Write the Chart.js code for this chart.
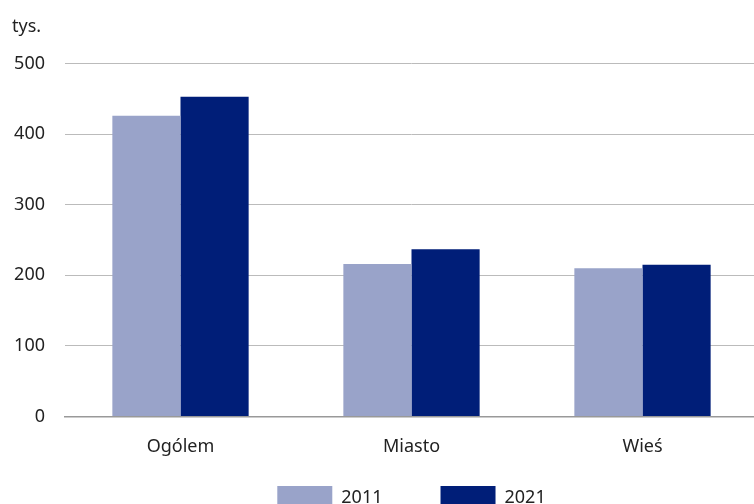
<!DOCTYPE html>
<html>
<head>
<meta charset="utf-8">
<script src="https://cdn.jsdelivr.net/npm/chart.js@4"></script>
<style>
  html, body { margin: 0; padding: 0; background: #fff; overflow: hidden; }
  #wrap { width: 758px; height: 504px; }
</style>
</head>
<body>
<div id="wrap"><canvas id="chart"></canvas></div>
<script>
// categories and values (thousands)
const categories = ['Ogólem', 'Miasto', 'Wieś'];
const years = ['2011', '2021'];
const values2011 = [426, 216, 210];
const values2021 = [453, 237, 215];
const yTicks = [0, 100, 200, 300, 400, 500];

const colors = ['#99a3c9', '#001e78'];
const FONT = '"Noto Sans", sans-serif';

const ctx = document.getElementById('chart').getContext('2d');
new Chart(ctx, {
  type: 'bar',
  data: {
    labels: categories,
    datasets: [
      { label: years[0], data: values2011, backgroundColor: colors[0] },
      { label: years[1], data: values2021, backgroundColor: colors[1] }
    ]
  },
  options: {
    responsive: true,
    maintainAspectRatio: false,
    animation: false,
    layout: { padding: { left: 12, right: 0, top: 0, bottom: -16 } },
    datasets: { bar: { categoryPercentage: 0.59, barPercentage: 1 } },
    plugins: {
      title: {
        display: true,
        text: 'tys.',
        align: 'start',
        color: '#222',
        font: { family: FONT, size: 18, weight: 'normal' },
        padding: { top: 16, bottom: 26 }
      },
      legend: {
        position: 'bottom',
        fullSize: false,
        labels: {
          boxWidth: 55,
          boxHeight: 24,
          padding: 8,
          color: '#222',
          font: { family: FONT, size: 18 },
          // wider gap after the first item, like the source legend
          generateLabels: (chart) => {
            const items = Chart.defaults.plugins.legend.labels.generateLabels(chart);
            items.forEach((it, i) => { if (i < items.length - 1) it.text += '\u2003\u2003   '; });
            return items;
          }
        }
      },
      tooltip: { enabled: false }
    },
    scales: {
      x: {
        grid: { display: false, drawTicks: false },
        border: { color: '#999', width: 1.5 },
        ticks: { color: '#222', font: { family: FONT, size: 18 }, padding: 20 }
      },
      y: {
        min: 0,
        max: 500,
        afterBuildTicks: (axis) => { axis.ticks = yTicks.map(v => ({ value: v })); },
        afterFit: (axis) => { axis.width = 53; },
        grid: { color: '#bbb', drawTicks: false },
        border: { display: false },
        ticks: { color: '#222', font: { family: FONT, size: 18 }, padding: 20 }
      }
    }
  }
});
</script>
</body>
</html>
